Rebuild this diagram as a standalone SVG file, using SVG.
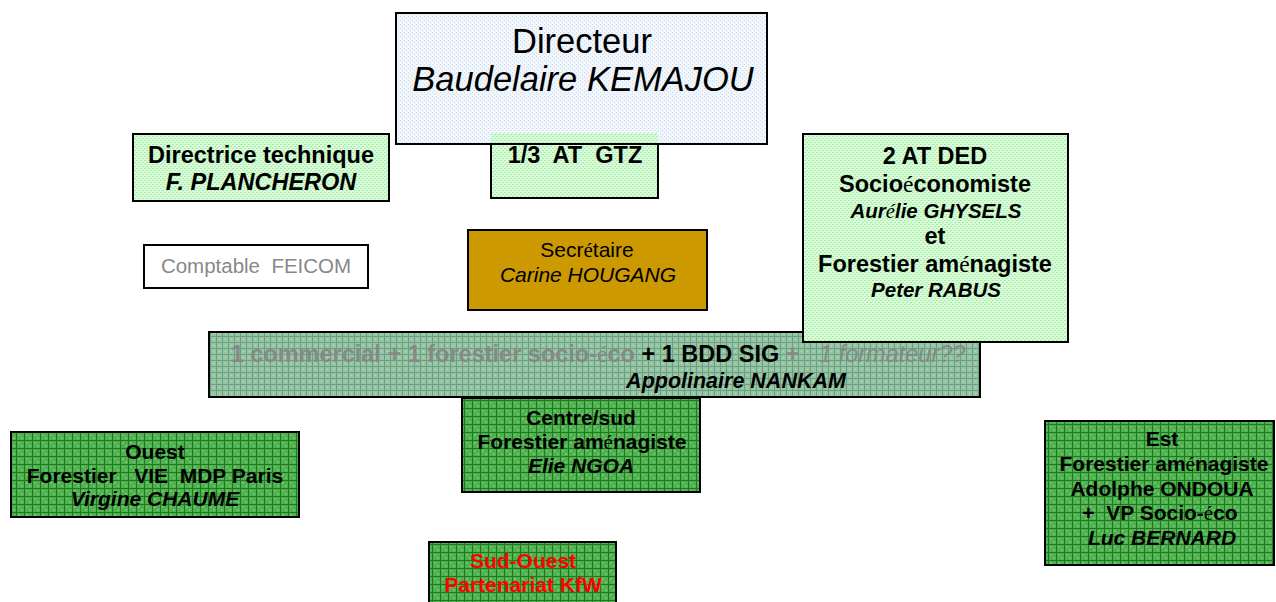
<svg xmlns="http://www.w3.org/2000/svg" width="1276" height="602" viewBox="0 0 1276 602">
<defs>
<pattern id="pBlue" width="4" height="4" patternUnits="userSpaceOnUse">
<rect width="4" height="4" fill="#f1f6fc"/>
<rect x="0" y="0" width="1" height="1" fill="#c9dcef"/>
<rect x="2" y="2" width="1" height="1" fill="#c9dcef"/>
</pattern>
<pattern id="pLight" width="4" height="4" patternUnits="userSpaceOnUse">
<rect width="4" height="4" fill="#d6fbd6"/>
<rect x="0" y="0" width="2" height="1" fill="#a6eea6"/>
<rect x="2" y="2" width="2" height="1" fill="#a6eea6"/>
<rect x="1" y="1" width="1" height="1" fill="#f4fff4"/>
</pattern>
<pattern id="pBand" width="6" height="6" patternUnits="userSpaceOnUse">
<rect width="6" height="6" fill="#94c6a6"/>
<rect x="0" y="0" width="6" height="1" fill="#6f9f80"/>
<rect x="0" y="0" width="1" height="6" fill="#6f9f80"/>
<rect x="3" y="3" width="1" height="1" fill="#b8dcc4"/>
</pattern>
<pattern id="pDark" width="8" height="8" patternUnits="userSpaceOnUse">
<rect width="8" height="8" fill="#4fb04f"/>
<rect x="2" y="2" width="2" height="2" fill="#6cc46c"/>
<rect x="5" y="5" width="2" height="2" fill="#6cc46c"/>
<rect x="0" y="0" width="8" height="1" fill="#1d7a1d"/>
<rect x="0" y="0" width="1" height="8" fill="#1d7a1d"/>
</pattern>
</defs>
<style>
.box{stroke:#000;stroke-width:2}
text{font-family:"Liberation Sans",Arial,sans-serif;text-anchor:middle;fill:#000}
.b{font-weight:bold}
.i{font-style:italic}
.e{font-family:"Liberation Serif","Times New Roman",serif;font-weight:normal}
.g{fill:#888}
.r{fill:#ff0000}
</style>

<g id="gtz">
<rect class="box" x="491" y="133" width="167" height="65" fill="url(#pLight)"/>
</g>
<g id="directeur">
<rect x="396" y="13" width="371" height="131" fill="url(#pBlue)"/>
<rect x="491" y="133" width="167" height="11" fill="url(#pLight)"/>
<rect class="box" x="396" y="13" width="371" height="131" fill="none"/>
<text x="582" y="53" font-size="34.5">Directeur</text>
<text x="583" y="91" font-size="34.5" class="i">Baudelaire KEMAJOU</text>
</g>
<g id="gtz-label">
<text x="575" y="163" font-size="23.5" class="b" xml:space="preserve">1/3  AT  GTZ</text>
</g>
<g id="directrice">
<rect class="box" x="133" y="134" width="256" height="67" fill="url(#pLight)"/>
<text x="261" y="163" font-size="23.5" class="b">Directrice technique</text>
<text x="261" y="190" font-size="23.5" class="b i">F. PLANCHERON</text>
</g>
<g id="comptable">
<rect class="box" x="144" y="245" width="224" height="43" fill="#fff"/>
<text x="256" y="273" font-size="20.5" class="g" xml:space="preserve">Comptable  FEICOM</text>
</g>
<g id="secretaire">
<rect class="box" x="468" y="230" width="239" height="80" fill="#cc9900"/>
<text x="587" y="257" font-size="21">Secr<tspan class="e">é</tspan>taire</text>
<text x="588" y="282" font-size="21" class="i">Carine HOUGANG</text>
</g>
<g id="equipe">
<rect class="box" x="209" y="332" width="771" height="65" fill="url(#pBand)"/>
<text x="598" y="362" font-size="23.5" class="b" xml:space="preserve"><tspan class="g">1 commercial + 1 forestier socio-<tspan class="e">é</tspan>co</tspan> + 1 BDD SIG <tspan class="g">+   <tspan class="i" font-weight="normal">1 formateur??</tspan></tspan></text>
<text x="736" y="388" font-size="21.5" class="b i">Appolinaire NANKAM</text>
</g>
<g id="ded">
<rect class="box" x="803" y="134" width="265" height="208" fill="url(#pLight)"/>
<text x="935" y="164" font-size="23.5" class="b">2 AT DED</text>
<text x="935" y="192" font-size="23.5" class="b">Socio<tspan class="e">é</tspan>conomiste</text>
<text x="936" y="218" font-size="20.5" class="b i">Aur<tspan class="e">é</tspan>lie GHYSELS</text>
<text x="935" y="244" font-size="23.5" class="b">et</text>
<text x="935" y="272" font-size="23.5" class="b">Forestier am<tspan class="e">é</tspan>nagiste</text>
<text x="936" y="297" font-size="20.5" class="b i">Peter RABUS</text>
</g>
<g id="centre">
<rect class="box" x="462" y="398" width="238" height="94" fill="url(#pDark)"/>
<text x="581" y="425" font-size="21" class="b">Centre/sud</text>
<text x="582" y="449" font-size="21" class="b">Forestier am<tspan class="e">é</tspan>nagiste</text>
<text x="581" y="473" font-size="21" class="b i">Elie NGOA</text>
</g>
<g id="ouest">
<rect class="box" x="11" y="432" width="288" height="85" fill="url(#pDark)"/>
<text x="155" y="459" font-size="21" class="b">Ouest</text>
<text x="155" y="483" font-size="21" class="b" xml:space="preserve">Forestier   VIE  MDP Paris</text>
<text x="155" y="506" font-size="21" class="b i">Virgine CHAUME</text>
</g>
<g id="est">
<rect class="box" x="1045" y="421" width="229" height="144" fill="url(#pDark)"/>
<text x="1162" y="446" font-size="21" class="b">Est</text>
<text x="1164" y="471" font-size="21" class="b">Forestier am<tspan class="e">é</tspan>nagiste</text>
<text x="1162" y="496" font-size="21" class="b">Adolphe ONDOUA</text>
<text x="1160" y="520" font-size="21" class="b" xml:space="preserve">+  VP Socio-<tspan class="e">é</tspan>co</text>
<text x="1162" y="545" font-size="21" class="b i">Luc BERNARD</text>
</g>
<g id="sudouest">
<rect class="box" x="429" y="542" width="187" height="64" fill="url(#pDark)"/>
<text x="523" y="568" font-size="21" class="b r">Sud-Ouest</text>
<text x="523" y="592" font-size="21" class="b r">Partenariat KfW</text>
</g>
<g id="connectors"></g>
</svg>
